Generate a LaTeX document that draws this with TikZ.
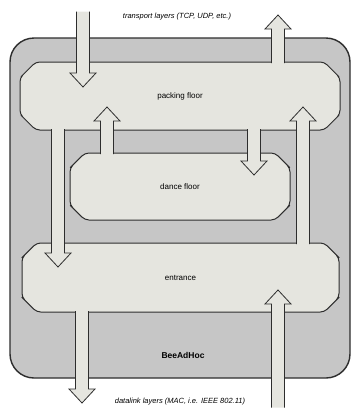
\documentclass[tikz,border=0pt]{standalone}
\usepackage{fontspec}
\setmainfont{Liberation Sans}
\usetikzlibrary{calc,shapes.misc}
\definecolor{boxgray}{RGB}{198,198,198}
\definecolor{floorfill}{RGB}{229,229,223}
\definecolor{linegray}{RGB}{45,45,45}
\tikzset{
	floor/.style={chamfered rectangle, chamfered rectangle xsep=13pt, chamfered rectangle ysep=12pt,
		rounded corners=4pt, draw=linegray, fill=floorfill, line width=1pt, inner sep=0pt,
		font=\fontsize{8}{9}\selectfont},
	blkline/.style={draw=linegray, line width=0.8pt, line join=miter},
}
% block arrows: #1 gives the base (only its y is used), #2 the tip
\newcommand\downblk[2]{%
	\fill[floorfill] let \p1=#1, \p2=#2 in
	(\x2-6.5pt,\y1+1.5pt) -- (\x2-6.5pt,\y2+14pt) -- (\x2-13pt,\y2+14pt) -- (\x2,\y2) --
	(\x2+13pt,\y2+14pt) -- (\x2+6.5pt,\y2+14pt) -- (\x2+6.5pt,\y1+1.5pt) -- cycle;
	\draw[blkline] let \p1=#1, \p2=#2 in
	(\x2-6.5pt,\y1+1.5pt) -- (\x2-6.5pt,\y2+14pt) -- (\x2-13pt,\y2+14pt) -- (\x2,\y2) --
	(\x2+13pt,\y2+14pt) -- (\x2+6.5pt,\y2+14pt) -- (\x2+6.5pt,\y1+1.5pt);
}
\newcommand\upblk[2]{%
	\fill[floorfill] let \p1=#1, \p2=#2 in
	(\x2-6.5pt,\y1-1.5pt) -- (\x2-6.5pt,\y2-14pt) -- (\x2-13pt,\y2-14pt) -- (\x2,\y2) --
	(\x2+13pt,\y2-14pt) -- (\x2+6.5pt,\y2-14pt) -- (\x2+6.5pt,\y1-1.5pt) -- cycle;
	\draw[blkline] let \p1=#1, \p2=#2 in
	(\x2-6.5pt,\y1-1.5pt) -- (\x2-6.5pt,\y2-14pt) -- (\x2-13pt,\y2-14pt) -- (\x2,\y2) --
	(\x2+13pt,\y2-14pt) -- (\x2+6.5pt,\y2-14pt) -- (\x2+6.5pt,\y1-1.5pt);
}
\begin{document}
\begin{tikzpicture}[x=1pt,y=-1pt]
	\useasboundingbox (0,0) rectangle (354,410);
	%
	\node[draw=linegray, fill=boxgray, line width=1.4pt, rounded corners=24pt,
		minimum width=340pt, minimum height=340pt, inner sep=0pt] (bee) at (180,208) {};
	\node[font=\bfseries\fontsize{8.5}{10}\selectfont] (beename) at (183,355) {BeeAdHoc};
	%
	\node[floor, minimum width=320pt, minimum height=68pt] (pack) at (180,96) {packing floor};
	\node[floor, minimum width=220pt, minimum height=67pt] (dance) at (180,186.5) {dance floor};
	\node[floor, minimum width=317pt, minimum height=69pt] (entrance) at (180.5,277.5) {entrance};
	%
	\node[font=\itshape\fontsize{7.5}{9}\selectfont] (transport) at (177,17) {transport layers (TCP, UDP, etc.)};
	\node[font=\itshape\fontsize{7.5}{9}\selectfont] (datalink) at (180,402) {datalink layers (MAC, i.e. IEEE 802.11)};
	\coordinate (upper) at (0,13);
	\coordinate (lower) at (0,406);
	%
	\downblk{(upper)}{(83,87)}
	\upblk{(pack.north)}{(278,15)}
	\upblk{(dance.north)}{(107,107)}
	\upblk{(entrance.north)}{(303,107)}
	\downblk{(pack.south)}{(58,267)}
	\downblk{(pack.south)}{(254,175)}
	\downblk{(entrance.south)}{(82,403)}
	\upblk{(lower)}{(278,290)}
	%
\end{tikzpicture}
\end{document}
